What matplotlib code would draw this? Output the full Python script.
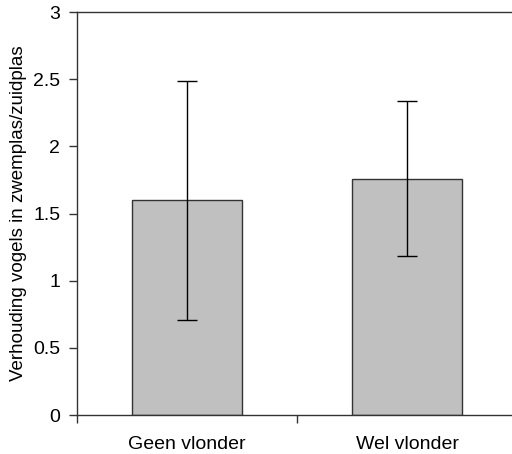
import matplotlib
matplotlib.use("Agg")
import matplotlib.pyplot as plt

categories = ["Geen vlonder", "Wel vlonder"]
ratio_means = [1.60, 1.76]
ratio_errors = [0.89, 0.575]
y_ticks = [0, 0.5, 1, 1.5, 2, 2.5, 3]
y_tick_labels = ["0", "0.5", "1", "1.5", "2", "2.5", "3"]

plt.rcParams["font.family"] = ["Liberation Sans", "DejaVu Sans"]

fig = plt.figure(figsize=(5.12, 4.54), dpi=100)
ax = fig.add_axes([77 / 512, 39 / 454, 440 / 512, 403 / 454])

edge = "#333333"
positions = list(range(len(categories)))
ax.bar(positions, ratio_means, width=0.5, color="#C0C0C0",
       edgecolor=edge, linewidth=1.0, zorder=2)
ax.errorbar(positions, ratio_means, yerr=ratio_errors, fmt="none",
            ecolor="black", elinewidth=1.0, capsize=7, capthick=1.0, zorder=3)

ax.set_xlim(-0.5, len(categories) - 0.5)
ax.set_ylim(0, 3)
ax.set_yticks(y_ticks)
ax.set_yticklabels(y_tick_labels)

# category boundaries carry the tick marks, labels sit at the bar centres
ax.set_xticks([p - 0.5 for p in positions] + [positions[-1] + 0.5])
ax.set_xticklabels([])
ax.set_xticks(positions, minor=True)
ax.set_xticklabels(categories, minor=True)
ax.tick_params(axis="x", which="major", direction="out", length=6,
               width=1.0, color=edge)
ax.tick_params(axis="x", which="minor", length=0, pad=15, labelsize=14)
ax.tick_params(axis="y", direction="out", length=6, width=1.0, color=edge,
               labelsize=14, pad=6)

for side in ["left", "bottom", "top", "right"]:
    ax.spines[side].set_color(edge)
    ax.spines[side].set_linewidth(1.0)

ax.set_ylabel("Verhouding vogels in zwemplas/zuidplas", fontsize=13.5,
              va="center")
ax.yaxis.set_label_coords(-0.133, 0.5)

fig.savefig("out.png", dpi=100)
